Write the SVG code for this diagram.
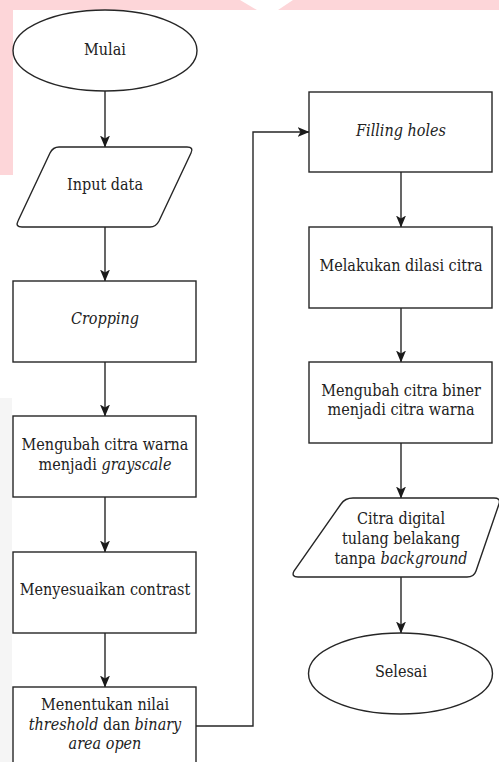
<svg xmlns="http://www.w3.org/2000/svg" width="499" height="762" viewBox="0 0 499 762">
<defs>
<style>
.s{fill:#fff;stroke:#262626;stroke-width:1.4}
.t{font-family:'DejaVu Serif Condensed','DejaVu Serif',serif;font-stretch:condensed;font-size:16px;fill:#222;text-anchor:middle}
.i{font-style:italic}
.c{fill:none;stroke:#262626;stroke-width:1.4}
</style>
<marker id="ah" viewBox="0 0 12 12" refX="11.5" refY="6" markerWidth="12" markerHeight="12" orient="auto" markerUnits="userSpaceOnUse">
<path d="M0,1 L12,6 L0,11 L3,6 Z" fill="#1a1a1a"/>
</marker>
</defs>
<rect width="499" height="762" fill="#fff"/>
<path d="M0,0 H240 L257,10 H278 L293,0 H499 V10 H13 V175 H0 Z" fill="#fdd6d9"/>
<rect x="0" y="398" width="12" height="364" fill="#f5f5f5"/>

<g id="connectors">
<line class="c" x1="105" y1="91" x2="105" y2="147" marker-end="url(#ah)"/>
<line class="c" x1="105" y1="227" x2="105" y2="281" marker-end="url(#ah)"/>
<line class="c" x1="105" y1="362" x2="105" y2="416" marker-end="url(#ah)"/>
<line class="c" x1="105" y1="497" x2="105" y2="552" marker-end="url(#ah)"/>
<line class="c" x1="105" y1="633" x2="105" y2="687" marker-end="url(#ah)"/>
<polyline class="c" points="196,726 253,726 253,132 309,132" marker-end="url(#ah)"/>
<line class="c" x1="401" y1="172" x2="401" y2="227" marker-end="url(#ah)"/>
<line class="c" x1="401" y1="308" x2="401" y2="362" marker-end="url(#ah)"/>
<line class="c" x1="401" y1="443" x2="401" y2="498" marker-end="url(#ah)"/>
<line class="c" x1="401" y1="577" x2="401" y2="633" marker-end="url(#ah)"/>
</g>

<g id="mulai">
<ellipse class="s" cx="105" cy="50.5" rx="92" ry="40.5"/>
<text class="t" x="105" y="55">Mulai</text>
</g>

<g id="input">
<path class="s" d="M59,147 H187 Q194,147 191,153 L159,221 Q156,227 150,227 H22 Q15,227 18,221 L50,153 Q53,147 59,147 Z"/>
<text class="t" x="105" y="190">Input data</text>
</g>

<g id="cropping">
<rect class="s" x="13" y="281" width="183" height="81"/>
<text class="t i" x="105" y="324">Cropping</text>
</g>

<g id="grayscale">
<rect class="s" x="13" y="416" width="183" height="81"/>
<text class="t" x="105" y="450">Mengubah citra warna</text>
<text class="t" x="105" y="470">menjadi <tspan class="i">grayscale</tspan></text>
</g>

<g id="contrast">
<rect class="s" x="13" y="552" width="183" height="81"/>
<text class="t" x="105" y="595">Menyesuaikan contrast</text>
</g>

<g id="threshold">
<rect class="s" x="13" y="687" width="183" height="90"/>
<text class="t" x="105" y="710">Menentukan nilai</text>
<text class="t" x="105" y="730"><tspan class="i">threshold</tspan> dan <tspan class="i">binary</tspan></text>
<text class="t i" x="105" y="749">area open</text>
</g>

<g id="filling">
<rect class="s" x="309" y="92" width="183" height="80"/>
<text class="t i" x="401" y="136">Filling holes</text>
</g>

<g id="dilasi">
<rect class="s" x="309" y="227" width="183" height="81"/>
<text class="t" x="401" y="271">Melakukan dilasi citra</text>
</g>

<g id="biner">
<rect class="s" x="309" y="362" width="183" height="81"/>
<text class="t" x="401" y="396">Mengubah citra biner</text>
<text class="t" x="401" y="415">menjadi citra warna</text>
</g>

<g id="output">
<path class="s" d="M353,498 H494 Q501,498 499,504 L476,571 Q474,577 467,577 H298 Q291,577 294,571 L341,504 Q345,498 353,498 Z"/>
<text class="t" x="401" y="524">Citra digital</text>
<text class="t" x="401" y="544">tulang belakang</text>
<text class="t" x="401" y="564">tanpa <tspan class="i">background</tspan></text>
</g>

<g id="selesai">
<ellipse class="s" cx="400.5" cy="673.5" rx="92" ry="40.5"/>
<text class="t" x="401" y="677">Selesai</text>
</g>
</svg>
